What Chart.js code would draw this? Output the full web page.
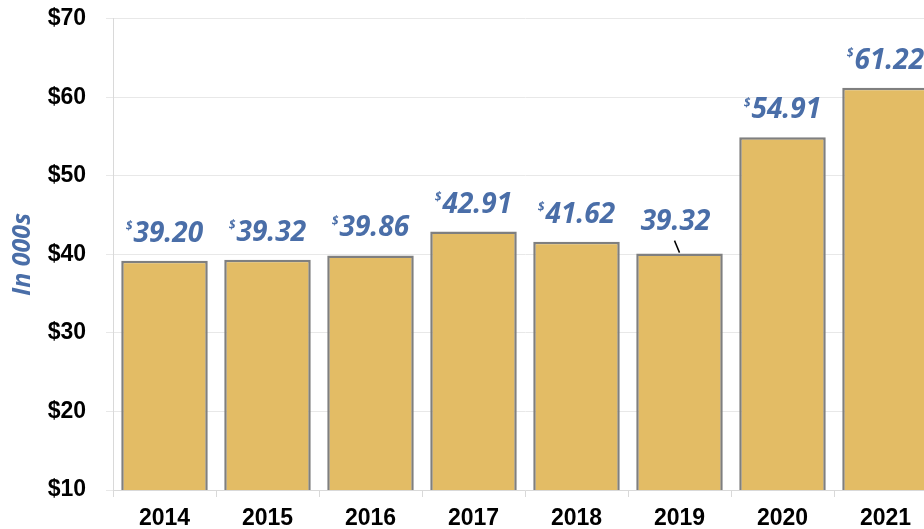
<html>
<head>
<style>
  body { margin: 0; overflow: hidden; background: #fff; }
  #wrap { width: 940px; height: 544px; margin-top: -15px; }
</style>
</head>
<body>
<div id="wrap"><canvas id="myChart"></canvas></div>
<script src="https://cdn.jsdelivr.net/npm/chart.js@4.4.0/dist/chart.umd.min.js"></script>
<script>
const years = ["2014", "2015", "2016", "2017", "2018", "2019", "2020", "2021"];
const amounts = [39.2, 39.32, 39.86, 42.91, 41.62, 40.1, 54.91, 61.22];
const valueLabels = ["39.20", "39.32", "39.86", "42.91", "41.62", "39.32", "54.91", "61.22"];
const showDollar = [true, true, true, true, true, false, true, true];
const yTicks = [10, 20, 30, 40, 50, 60, 70];

const labelBlue = "#4a6ea8";

// draws the blue values over the bars
const valuePlugin = {
    id: "values",
    afterDatasetsDraw(chart) {
        const ctx = chart.ctx;
        const meta = chart.getDatasetMeta(0);
        ctx.save();
        meta.data.forEach((bar, i) => {
            let cx = bar.x;
            let cy = bar.y - 27;
            if (!showDollar[i]) {
                // label moved up with a leader line
                cx = bar.x - 4;
                cy = bar.y - 32;
                ctx.strokeStyle = "#000";
                ctx.lineWidth = 1.5;
                ctx.beginPath();
                ctx.moveTo(cx - 1, bar.y - 13);
                ctx.lineTo(cx + 4, bar.y - 1);
                ctx.stroke();
            }
            ctx.font = "italic bold 28px 'Open Sans'";
            ctx.fillStyle = labelBlue;
            ctx.textBaseline = "middle";
            const w = ctx.measureText(valueLabels[i]).width;
            let sw = 0;
            if (showDollar[i]) {
                ctx.font = "italic bold 12px 'Open Sans'";
                sw = ctx.measureText("$").width + 1;
            }
            const left = cx - (w + sw) / 2;
            ctx.textAlign = "left";
            if (showDollar[i]) {
                ctx.fillText("$", left, cy - 7);
            }
            ctx.font = "italic bold 28px 'Open Sans'";
            ctx.fillText(valueLabels[i], left + sw, cy);
        });
        ctx.restore();
    }
};

new Chart("myChart", {
    type: "bar",
    data: {
        labels: years,
        datasets: [{
            data: amounts,
            backgroundColor: "#e3bc65",
            borderColor: "#7f7f7f",
            borderWidth: 2.5,
            barPercentage: 0.84,
            categoryPercentage: 1
        }]
    },
    options: {
        responsive: true,
        maintainAspectRatio: false,
        animation: false,
        layout: { padding: { top: 4, right: 3, left: 0, bottom: 0 } },
        plugins: {
            legend: { display: false },
            tooltip: { enabled: false }
        },
        scales: {
            x: {
                grid: { drawOnChartArea: false, color: "#d9d9d9", tickLength: 7 },
                border: { color: "#d9d9d9" },
                ticks: {
                    color: "#000",
                    padding: 8,
                    font: { family: "'Liberation Sans', Arial", size: 23, weight: "bold" }
                },
                afterFit: s => { s.height = 39; }
            },
            y: {
                min: 10,
                max: 70,
                afterBuildTicks: s => { s.ticks = yTicks.map(v => ({ value: v })); },
                grid: { color: "#e8e8e8", tickLength: 7 },
                border: { color: "#d9d9d9" },
                ticks: {
                    color: "#000",
                    padding: 20,
                    font: { family: "'Liberation Sans', Arial", size: 23, weight: "bold" },
                    callback: v => "$" + v
                },
                title: {
                    display: true,
                    text: "In 000s",
                    color: labelBlue,
                    padding: { top: 8, bottom: 0 },
                    font: { family: "'Open Sans'", size: 25, weight: "bold", style: "italic" }
                },
                afterFit: s => { s.width = 113; }
            }
        }
    },
    plugins: [valuePlugin]
});
</script>
</body>
</html>
